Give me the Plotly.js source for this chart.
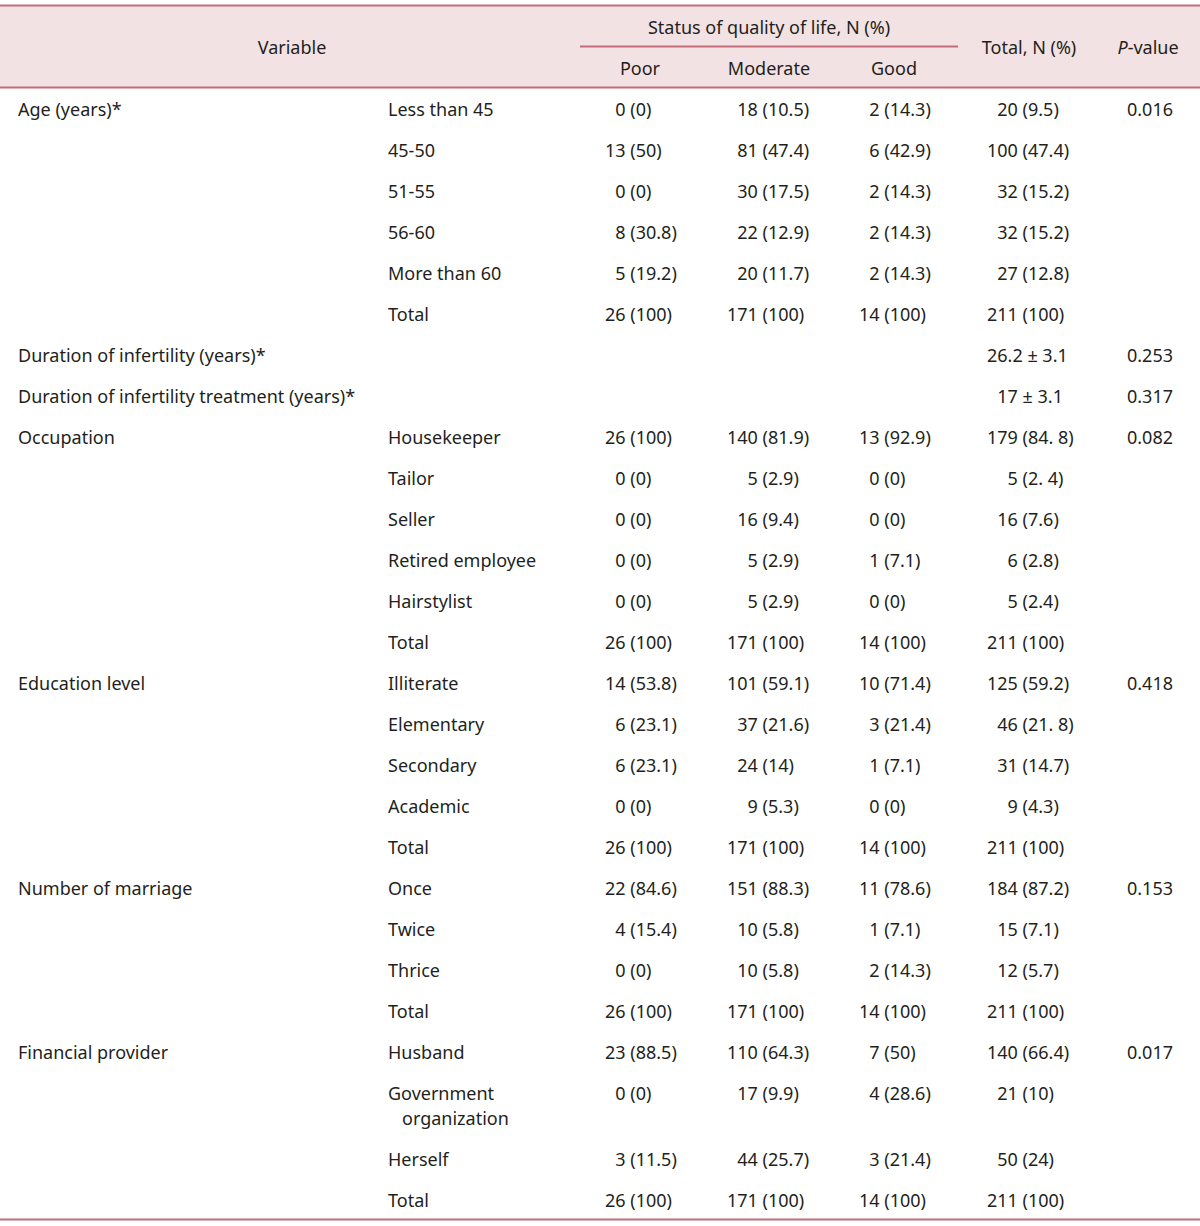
<!DOCTYPE html>
<html>
<head>
<meta charset="utf-8">
<script src="https://cdn.plot.ly/plotly-3.0.1.min.js"></script>
<style>
  html, body { margin: 0; padding: 0; background: #ffffff; }
  #table { width: 1200px; height: 1226px; }
</style>
</head>
<body>
<div id="table"></div>
<script>
// Table content, one entry per body row
var variables = [
    'Age (years)*', '', '', '', '', '',
    'Duration of infertility (years)*',
    'Duration of infertility treatment (years)*',
    'Occupation', '', '', '', '', '',
    'Education level', '', '', '', '',
    'Number of marriage', '', '', '',
    'Financial provider', '', '', ''
];
var categories = [
    'Less than 45', '45-50', '51-55', '56-60', 'More than 60', 'Total',
    '', '',
    'Housekeeper', 'Tailor', 'Seller', 'Retired employee', 'Hairstylist', 'Total',
    'Illiterate', 'Elementary', 'Secondary', 'Academic', 'Total',
    'Once', 'Twice', 'Thrice', 'Total',
    'Husband', 'Government\n\u00a0\u00a0\u00a0organization', 'Herself', 'Total'
];
var poor = [
    '0 (0)', '13 (50)', '0 (0)', '8 (30.8)', '5 (19.2)', '26 (100)',
    '', '',
    '26 (100)', '0 (0)', '0 (0)', '0 (0)', '0 (0)', '26 (100)',
    '14 (53.8)', '6 (23.1)', '6 (23.1)', '0 (0)', '26 (100)',
    '22 (84.6)', '4 (15.4)', '0 (0)', '26 (100)',
    '23 (88.5)', '0 (0)', '3 (11.5)', '26 (100)'
];
var moderate = [
    '18 (10.5)', '81 (47.4)', '30 (17.5)', '22 (12.9)', '20 (11.7)', '171 (100)',
    '', '',
    '140 (81.9)', '5 (2.9)', '16 (9.4)', '5 (2.9)', '5 (2.9)', '171 (100)',
    '101 (59.1)', '37 (21.6)', '24 (14)', '9 (5.3)', '171 (100)',
    '151 (88.3)', '10 (5.8)', '10 (5.8)', '171 (100)',
    '110 (64.3)', '17 (9.9)', '44 (25.7)', '171 (100)'
];
var good = [
    '2 (14.3)', '6 (42.9)', '2 (14.3)', '2 (14.3)', '2 (14.3)', '14 (100)',
    '', '',
    '13 (92.9)', '0 (0)', '0 (0)', '1 (7.1)', '0 (0)', '14 (100)',
    '10 (71.4)', '3 (21.4)', '1 (7.1)', '0 (0)', '14 (100)',
    '11 (78.6)', '1 (7.1)', '2 (14.3)', '14 (100)',
    '7 (50)', '4 (28.6)', '3 (21.4)', '14 (100)'
];
var totals = [
    '20 (9.5)', '100 (47.4)', '32 (15.2)', '32 (15.2)', '27 (12.8)', '211 (100)',
    '26.2 \u00b1 3.1', '17 \u00b1 3.1',
    '179 (84. 8)', '5 (2. 4)', '16 (7.6)', '6 (2.8)', '5 (2.4)', '211 (100)',
    '125 (59.2)', '46 (21. 8)', '31 (14.7)', '9 (4.3)', '211 (100)',
    '184 (87.2)', '15 (7.1)', '12 (5.7)', '211 (100)',
    '140 (66.4)', '21 (10)', '50 (24)', '211 (100)'
];
var pValues = [
    '0.016', '', '', '', '', '',
    '0.253', '0.317',
    '0.082', '', '', '', '', '',
    '0.418', '', '', '', '',
    '0.153', '', '', '',
    '0.017', '', '', ''
];
var groupLabels = ['Poor', 'Moderate', 'Good'];

// Layout settings
var FONT = 'Noto Sans, Open Sans, sans-serif';
var TEXT_COLOR = '#231f20';
var RULE_COLOR = '#c56b7a';
var HEAD_FILL = '#f3e2e3';
var FONT_SIZE = 18;
var LINE_STEP = 25 / 41;   // second line of a wrapped cell, in row units
var TEXT_SHIFT = 0.085;    // nudge text down to sit centred in its row

// Pad leading number with figure spaces so columns line up
function padNumber(s, width) {
    if (!s) return s;
    var m = s.match(/^[\d.]+/);
    var n = m ? m[0].length : width;
    var pad = '';
    for (let i = n; i < width; i++) pad += '\u2007';
    return pad + s;
}

// Row positions (a wrapped cell makes its row taller)
var rowPos = [];
var pos = 0;
for (let i = 0; i < categories.length; i++) {
    rowPos.push(pos);
    var lines = categories[i].split('\n').length;
    pos += 1 + (lines - 1) * LINE_STEP;
}

function textTrace(xPos, values, width) {
    var xs = [], ys = [], ts = [];
    for (let i = 0; i < values.length; i++) {
        if (!values[i]) continue;
        var parts = values[i].split('\n');
        for (let j = 0; j < parts.length; j++) {
            xs.push(xPos);
            ys.push(rowPos[i] + j * LINE_STEP + TEXT_SHIFT);
            ts.push(width ? padNumber(parts[j], width) : parts[j]);
        }
    }
    return {
        x: xs, y: ys, text: ts,
        type: 'scatter', mode: 'text',
        textposition: 'middle right',
        textfont: {family: FONT, size: FONT_SIZE, color: TEXT_COLOR},
        hoverinfo: 'skip', showlegend: false, cliponaxis: false
    };
}

var data = [
    textTrace(18, variables),
    textTrace(388, categories),
    textTrace(605, poor, 2),
    textTrace(727, moderate, 3),
    textTrace(859, good, 2),
    textTrace(987, totals, 3),
    textTrace(1127, pValues)
];

// Header text, centred
var headY = -1.5 + TEXT_SHIFT;
var subY = -1.0 + TEXT_SHIFT;
var topY = -2.0 + TEXT_SHIFT;
data.push({
    x: [292, 769, 1029, 1148, 640, 769, 894],
    y: [headY, topY, headY, headY, subY, subY, subY],
    text: ['Variable', 'Status of quality of life, N (%)', 'Total, N (%)', '<i>P</i>-value']
        .concat(groupLabels),
    type: 'scatter', mode: 'text', textposition: 'middle center',
    textfont: {family: FONT, size: FONT_SIZE, color: TEXT_COLOR},
    hoverinfo: 'skip', showlegend: false, cliponaxis: false
});

var lastRow = rowPos[rowPos.length - 1];
var layout = {
    width: 1200, height: 1226,
    margin: {l: 0, r: 0, t: 0, b: 0},
    paper_bgcolor: '#ffffff', plot_bgcolor: '#ffffff',
    xaxis: {range: [0, 1200], visible: false, fixedrange: true},
    yaxis: {range: [lastRow + 0.66, -2.634], visible: false, fixedrange: true},
    shapes: [
        // Header background
        {type: 'rect', xref: 'x', yref: 'y', x0: 0, x1: 1200, y0: -2.5, y1: -0.5,
            fillcolor: HEAD_FILL, line: {width: 0}, layer: 'below'},
        {type: 'line', xref: 'x', yref: 'y', x0: 0, x1: 1200, y0: -2.5, y1: -2.5,
            line: {color: RULE_COLOR, width: 2}},
        {type: 'line', xref: 'x', yref: 'y', x0: 580, x1: 958, y0: -1.5, y1: -1.5,
            line: {color: RULE_COLOR, width: 2}},
        {type: 'line', xref: 'x', yref: 'y', x0: 0, x1: 1200, y0: -0.5, y1: -0.5,
            line: {color: RULE_COLOR, width: 2}},
        {type: 'line', xref: 'x', yref: 'y', x0: 0, x1: 1200, y0: lastRow + 0.5, y1: lastRow + 0.5,
            line: {color: RULE_COLOR, width: 2}}
    ]
};

Plotly.newPlot('table', data, layout, {staticPlot: true});
</script>
</body>
</html>
